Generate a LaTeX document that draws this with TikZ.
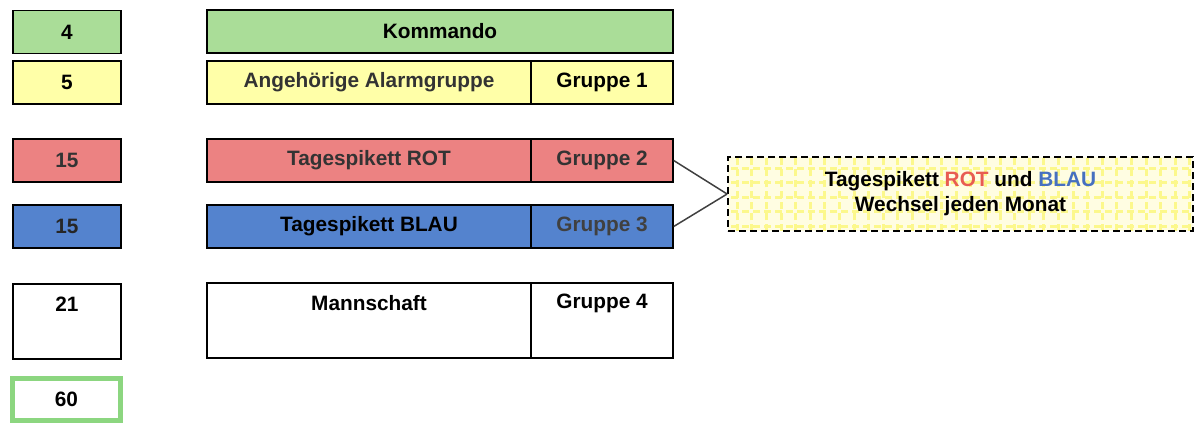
\documentclass[tikz,border=0pt]{standalone}
\usepackage{fontspec}
\setmainfont{Liberation Sans}
\usetikzlibrary{calc}
\usetikzlibrary{positioning}

\definecolor{kgreen}{RGB}{170,221,152}
\definecolor{kyellow}{RGB}{255,255,168}
\definecolor{kred}{RGB}{236,130,130}
\definecolor{kblue}{RGB}{84,131,206}
\definecolor{kframe}{RGB}{140,214,128}
\definecolor{kgrid}{RGB}{252,248,140}
\definecolor{kpale}{RGB}{255,253,226}
\definecolor{trot}{RGB}{232,92,82}
\definecolor{tblau}{RGB}{70,112,192}

\begin{document}
\begin{tikzpicture}
	[x=1pt, y=-1pt,
	every node/.style={font=\fontsize{20.8}{25}\selectfont\bfseries},
	box/.style = {draw, line width=1.4pt, inner sep=0pt, minimum height=43pt},
	num/.style = {box, minimum width=108pt},
	wide/.style = {box, minimum width=324pt},
	grp/.style = {box, minimum width=142pt},
	lbl/.style = {inner sep=0pt},
	link/.style = {line width=1.5pt, draw=black!75},
	gridline/.style = {draw=kgrid, line width=3pt, step=14.6pt},
	note/.style = {draw, dash pattern=on 7pt off 4pt, line width=1.8pt, fill=kpale,
		minimum width=465pt, minimum height=74pt, align=center,
		path picture={\draw[gridline] ($(path picture bounding box.south west)+(3,0)$) grid (path picture bounding box.north east);}}
	]
	\useasboundingbox (0,0) rectangle (1197,423);

	% numbers
	\node[num, fill=kgreen] (n4) at (67,32) {4};
	\node[num, fill=kyellow] (n5) at (67,82.5) {5};
	\node[num, fill=kred, text=black!80] (n15r) at (67,160.5) {15};
	\node[num, fill=kblue, text=black!85] (n15b) at (67,226.5) {15};
	\node[num, minimum height=75pt] (n21) at (67,321.5) {};
	\node[lbl] (t21) at ($(n21.north)+(0,21)$) {21};
	\node[num, draw=kframe, line width=5pt, minimum height=42pt] (n60) at (66.5,399.5) {60};

	% groups
	\node[box, fill=kgreen, minimum width=466pt] (kdo) at (440,31.5) {Kommando};
	\node[wide, fill=kyellow, text=black!80] (alarm) at (369,82.5) {Angehörige Alarmgruppe};
	\node[grp, fill=kyellow] (g1) at (602,82.5) {Gruppe 1};
	\node[wide, fill=kred, text=black!80] (rot) at (369,160.5) {Tagespikett ROT};
	\node[grp, fill=kred, text=black!80] (g2) at (602,160.5) {Gruppe 2};
	\node[wide, fill=kblue] (blau) at (369,226.5) {Tagespikett BLAU};
	\node[grp, fill=kblue, text=black!75] (g3) at (602,226.5) {Gruppe 3};
	\node[wide, minimum height=75pt] (mann) at (369,320.5) {};
	\node[grp, minimum height=75pt] (g4) at (602,320.5) {};
	\node[lbl] (tmann) at ($(mann.north)+(0,21)$) {Mannschaft};
	\node[lbl] (tg4) at ($(g4.north)+(0,21)$) {Gruppe 4};

	% Wechsel
	\node[note] (wechsel) at (960.5,194) {Tagespikett \textcolor{trot}{ROT} und \textcolor{tblau}{BLAU}\\Wechsel jeden Monat};
	\draw[link] (g2.east) -- (wechsel.west);
	\draw[link] (g3.east) -- (wechsel.west);
\end{tikzpicture}
\end{document}
